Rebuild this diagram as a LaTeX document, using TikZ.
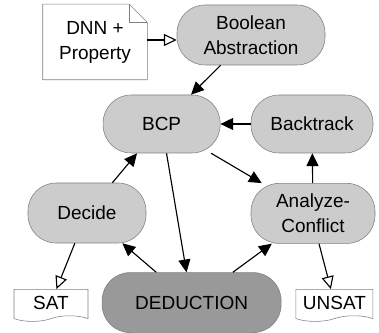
\documentclass[tikz,border=0pt]{standalone}
\usepackage{fontspec}
\setmainfont{Liberation Sans}
\usetikzlibrary{arrows.meta}
\usetikzlibrary{shapes.symbols}

\begin{document}
\begin{tikzpicture}[
    box/.style={draw=black!50, fill=black!20, rounded corners=0.7cm, align=center, inner sep=0pt},
    doc/.style={draw=black!50, fill=white, tape, tape bend top=none, tape bend height=4pt, inner sep=0pt},
    arr/.style={-{Triangle[length=0.32cm,width=0.3cm]}, line width=0.8pt},
    openarr/.style={-{Triangle[open,length=0.32cm,width=0.3cm]}, line width=0.8pt},
    font=\fontsize{13.5pt}{17.8pt}\selectfont
  ]
    \useasboundingbox (0,0) rectangle (9.475,8.325);

    \node[box, minimum width=3.7cm, minimum height=1.5cm] (bool) at (6.275,7.45) {Boolean\\Abstraction};
    \node[box, minimum width=2.925cm, minimum height=1.45cm] (bcp) at (4.04,5.225) {BCP};
    \node[box, minimum width=3.05cm, minimum height=1.45cm] (back) at (7.8,5.225) {Backtrack};
    \node[box, minimum width=2.95cm, minimum height=1.5cm] (decide) at (2.175,3.0) {Decide};
    \node[box, minimum width=3.1cm, minimum height=1.5cm] (analyze) at (7.825,2.99) {Analyze-\\Conflict};
    \node[box, fill=black!40, minimum width=4.475cm, minimum height=1.5cm] (deduct) at (4.79,0.76) {DEDUCTION};
    \node[doc, minimum width=1.85cm, minimum height=0.8cm] (sat) at (1.275,0.76) {SAT};
    \node[doc, minimum width=1.925cm, minimum height=0.8cm] (unsat) at (8.36,0.76) {UNSAT};

    % input file with folded corner
    \node[align=center, minimum width=2.6cm, minimum height=1.875cm] (dnn) at (2.375,7.275) {DNN +\\Property};
    \draw[black!50] (dnn.south west) -- (dnn.north west) -- ([xshift=-0.45cm]dnn.north east)
        -- ([yshift=-0.45cm]dnn.north east) -- (dnn.south east) -- cycle;
    \draw[black!50] ([xshift=-0.45cm]dnn.north east) -- ([xshift=-0.45cm,yshift=-0.45cm]dnn.north east)
        -- ([yshift=-0.45cm]dnn.north east);

    \draw[openarr] (dnn.east |- 0,7.325) -- (bool.west |- 0,7.325);
    \draw[arr] (bool) -- (bcp);
    \draw[arr] (back) -- (bcp);
    \draw[arr] (bcp) -- (analyze);
    \draw[arr] (analyze) -- (back);
    \draw[arr] (decide) -- (bcp);
    \draw[arr] (bcp) -- (deduct);
    \draw[arr] (deduct) -- (decide);
    \draw[arr] (deduct) -- (analyze);
    \draw[openarr] (decide) -- (sat);
    \draw[openarr] ([xshift=0.15cm]analyze.south) -- (unsat);
\end{tikzpicture}
\end{document}
